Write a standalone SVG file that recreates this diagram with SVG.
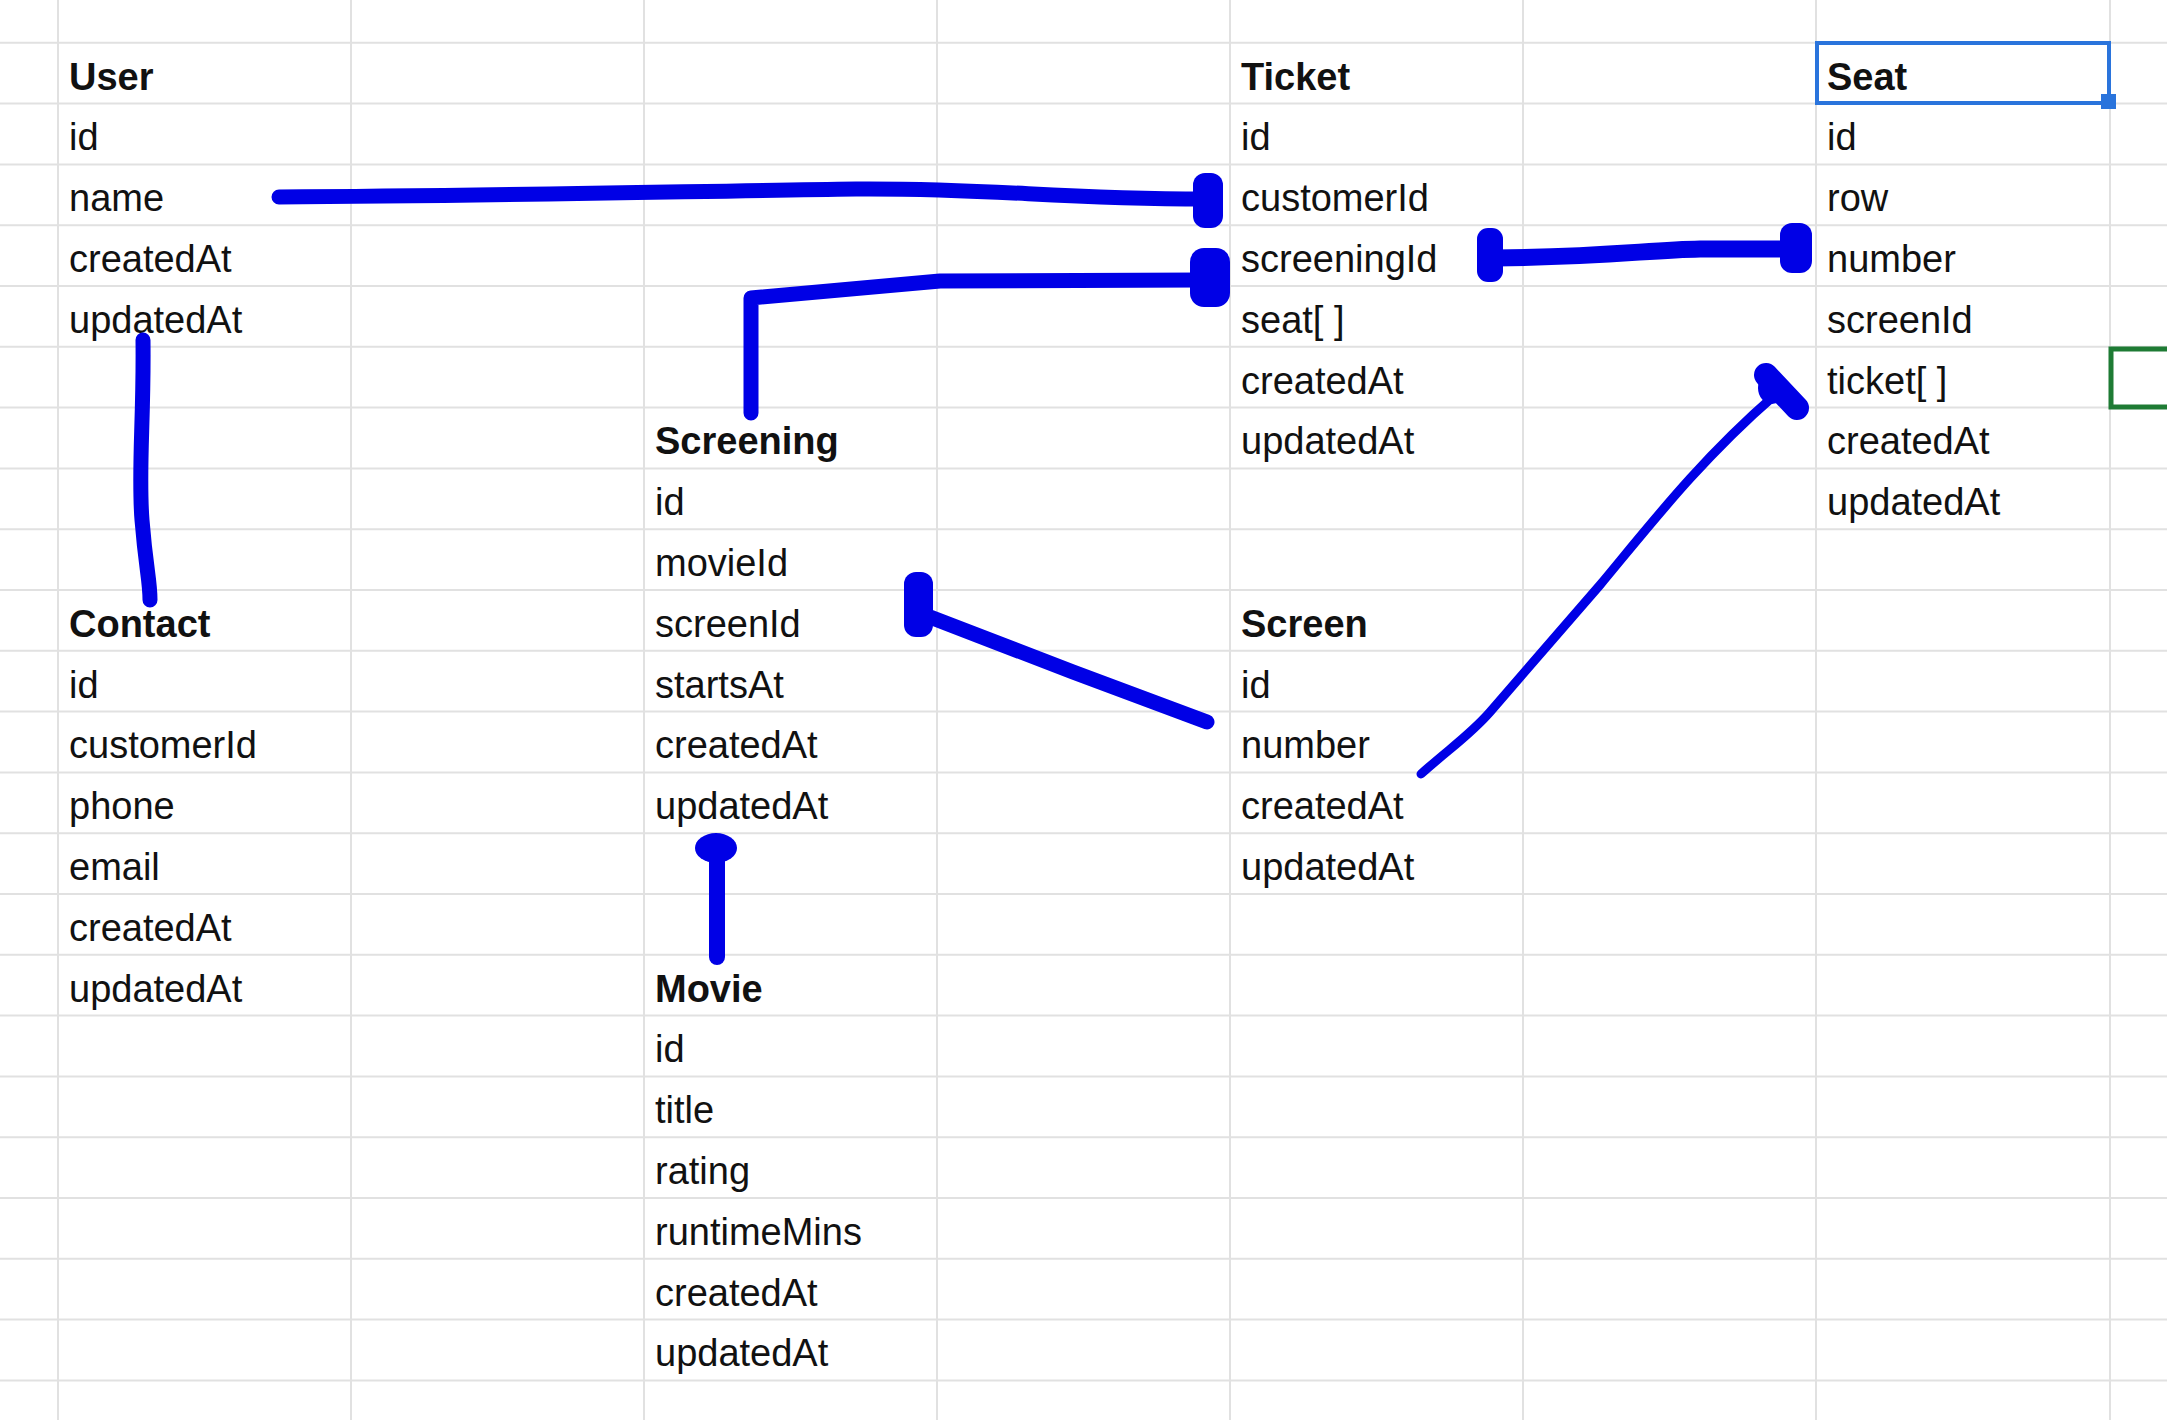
<svg xmlns="http://www.w3.org/2000/svg" width="2167" height="1420" viewBox="0 0 2167 1420">
<style>
.g line{stroke:#e1e1e1;stroke-width:2}
text{font-family:"Liberation Sans",Arial,sans-serif;font-size:38px;fill:#111}
.h{font-weight:bold}
.c{fill:none;stroke:#0000e6;stroke-linecap:round;stroke-linejoin:round}
.b{fill:#0000e6}
</style>
<rect width="2167" height="1420" fill="#fff"/>
<g class="g" id="grid">
<line x1="58" y1="0" x2="58" y2="1420"/><line x1="351" y1="0" x2="351" y2="1420"/><line x1="644" y1="0" x2="644" y2="1420"/><line x1="937" y1="0" x2="937" y2="1420"/><line x1="1230" y1="0" x2="1230" y2="1420"/><line x1="1523" y1="0" x2="1523" y2="1420"/><line x1="1816" y1="0" x2="1816" y2="1420"/><line x1="2110" y1="0" x2="2110" y2="1420"/>
<line x1="0" y1="42.8" x2="2167" y2="42.8"/><line x1="0" y1="103.6" x2="2167" y2="103.6"/><line x1="0" y1="164.4" x2="2167" y2="164.4"/><line x1="0" y1="225.2" x2="2167" y2="225.2"/><line x1="0" y1="286" x2="2167" y2="286"/><line x1="0" y1="346.8" x2="2167" y2="346.8"/><line x1="0" y1="407.6" x2="2167" y2="407.6"/><line x1="0" y1="468.4" x2="2167" y2="468.4"/><line x1="0" y1="529.2" x2="2167" y2="529.2"/><line x1="0" y1="590" x2="2167" y2="590"/><line x1="0" y1="650.8" x2="2167" y2="650.8"/><line x1="0" y1="711.6" x2="2167" y2="711.6"/><line x1="0" y1="772.4" x2="2167" y2="772.4"/><line x1="0" y1="833.2" x2="2167" y2="833.2"/><line x1="0" y1="894" x2="2167" y2="894"/><line x1="0" y1="954.8" x2="2167" y2="954.8"/><line x1="0" y1="1015.6" x2="2167" y2="1015.6"/><line x1="0" y1="1076.4" x2="2167" y2="1076.4"/><line x1="0" y1="1137.2" x2="2167" y2="1137.2"/><line x1="0" y1="1198" x2="2167" y2="1198"/><line x1="0" y1="1258.8" x2="2167" y2="1258.8"/><line x1="0" y1="1319.6" x2="2167" y2="1319.6"/><line x1="0" y1="1380.4" x2="2167" y2="1380.4"/>
</g>
<g transform="translate(0,3)">
<g id="user">
<text class="h" x="69" y="86.5">User</text>
<text x="69" y="147.3">id</text><text x="69" y="208.1">name</text><text x="69" y="268.9">createdAt</text><text x="69" y="329.7">updatedAt</text>
</g>
<g id="contact">
<text class="h" x="69" y="633.7">Contact</text>
<text x="69" y="694.5">id</text><text x="69" y="755.3">customerId</text><text x="69" y="816.1">phone</text><text x="69" y="876.9">email</text><text x="69" y="937.7">createdAt</text><text x="69" y="998.5">updatedAt</text>
</g>
<g id="screening">
<text class="h" x="655" y="451.3">Screening</text>
<text x="655" y="512.1">id</text><text x="655" y="572.9">movieId</text><text x="655" y="633.7">screenId</text><text x="655" y="694.5">startsAt</text><text x="655" y="755.3">createdAt</text><text x="655" y="816.1">updatedAt</text>
</g>
<g id="movie">
<text class="h" x="655" y="998.5">Movie</text>
<text x="655" y="1059.3">id</text><text x="655" y="1120.1">title</text><text x="655" y="1180.9">rating</text><text x="655" y="1241.7">runtimeMins</text><text x="655" y="1302.5">createdAt</text><text x="655" y="1363.3">updatedAt</text>
</g>
<g id="ticket">
<text class="h" x="1241" y="86.5">Ticket</text>
<text x="1241" y="147.3">id</text><text x="1241" y="208.1">customerId</text><text x="1241" y="268.9">screeningId</text><text x="1241" y="329.7">seat[ ]</text><text x="1241" y="390.5">createdAt</text><text x="1241" y="451.3">updatedAt</text>
</g>
<g id="screen">
<text class="h" x="1241" y="633.7">Screen</text>
<text x="1241" y="694.5">id</text><text x="1241" y="755.3">number</text><text x="1241" y="816.1">createdAt</text><text x="1241" y="876.9">updatedAt</text>
</g>
</g>
<g id="seat">
<rect x="1817" y="43" width="292" height="60" fill="none" stroke="#2a74dc" stroke-width="4"/>
<rect x="2101" y="94" width="15" height="15" fill="#2a74dc"/>
<g transform="translate(0,3)">
<text class="h" x="1827" y="86.5">Seat</text>
<text x="1827" y="147.3">id</text><text x="1827" y="208.1">row</text><text x="1827" y="268.9">number</text><text x="1827" y="329.7">screenId</text><text x="1827" y="390.5">ticket[ ]</text><text x="1827" y="451.3">createdAt</text><text x="1827" y="512.1">updatedAt</text>
</g>
</g>
<g id="selection">
<rect x="2111" y="349" width="70" height="58" fill="none" stroke="#1e7b34" stroke-width="5"/>
</g>
<g id="connectors">
<path class="c" stroke-width="15" d="M279,197 C500,196 700,191 856,189 C1000,188 1050,199 1205,199"/>
<rect class="b" x="1193" y="173" width="30" height="55" rx="12"/>
<path class="c" stroke-width="15" d="M751,413 L751,298 L940,281 L1200,280"/>
<rect class="b" x="1190" y="248" width="40" height="59" rx="14"/>
<path class="c" stroke-width="17" d="M1495,258 C1600,257 1650,250 1700,249 L1790,249"/>
<rect class="b" x="1477" y="228" width="26" height="54" rx="11"/>
<rect class="b" x="1780" y="223" width="32" height="50" rx="12"/>
<path class="c" stroke-width="15" d="M143,340 C144,420 138,470 142,520 S150,580 150,600"/>
<path class="c" stroke-width="15" d="M1207,722 L1073,672 L930,617"/>
<rect class="b" x="904" y="572" width="29" height="65" rx="12"/>
<path class="c" stroke-width="16" d="M717,957 L717,850"/>
<ellipse class="b" cx="716" cy="848" rx="21" ry="15"/>
<path class="c" stroke-width="9" d="M1421,774 C1450,748 1470,735 1490,712 L1600,585 C1650,525 1700,460 1775,395"/>
<path class="c" stroke-width="24" d="M1766,375 L1797,408"/>
<ellipse class="b" cx="1772" cy="388" rx="14" ry="16"/>
</g>
</svg>
